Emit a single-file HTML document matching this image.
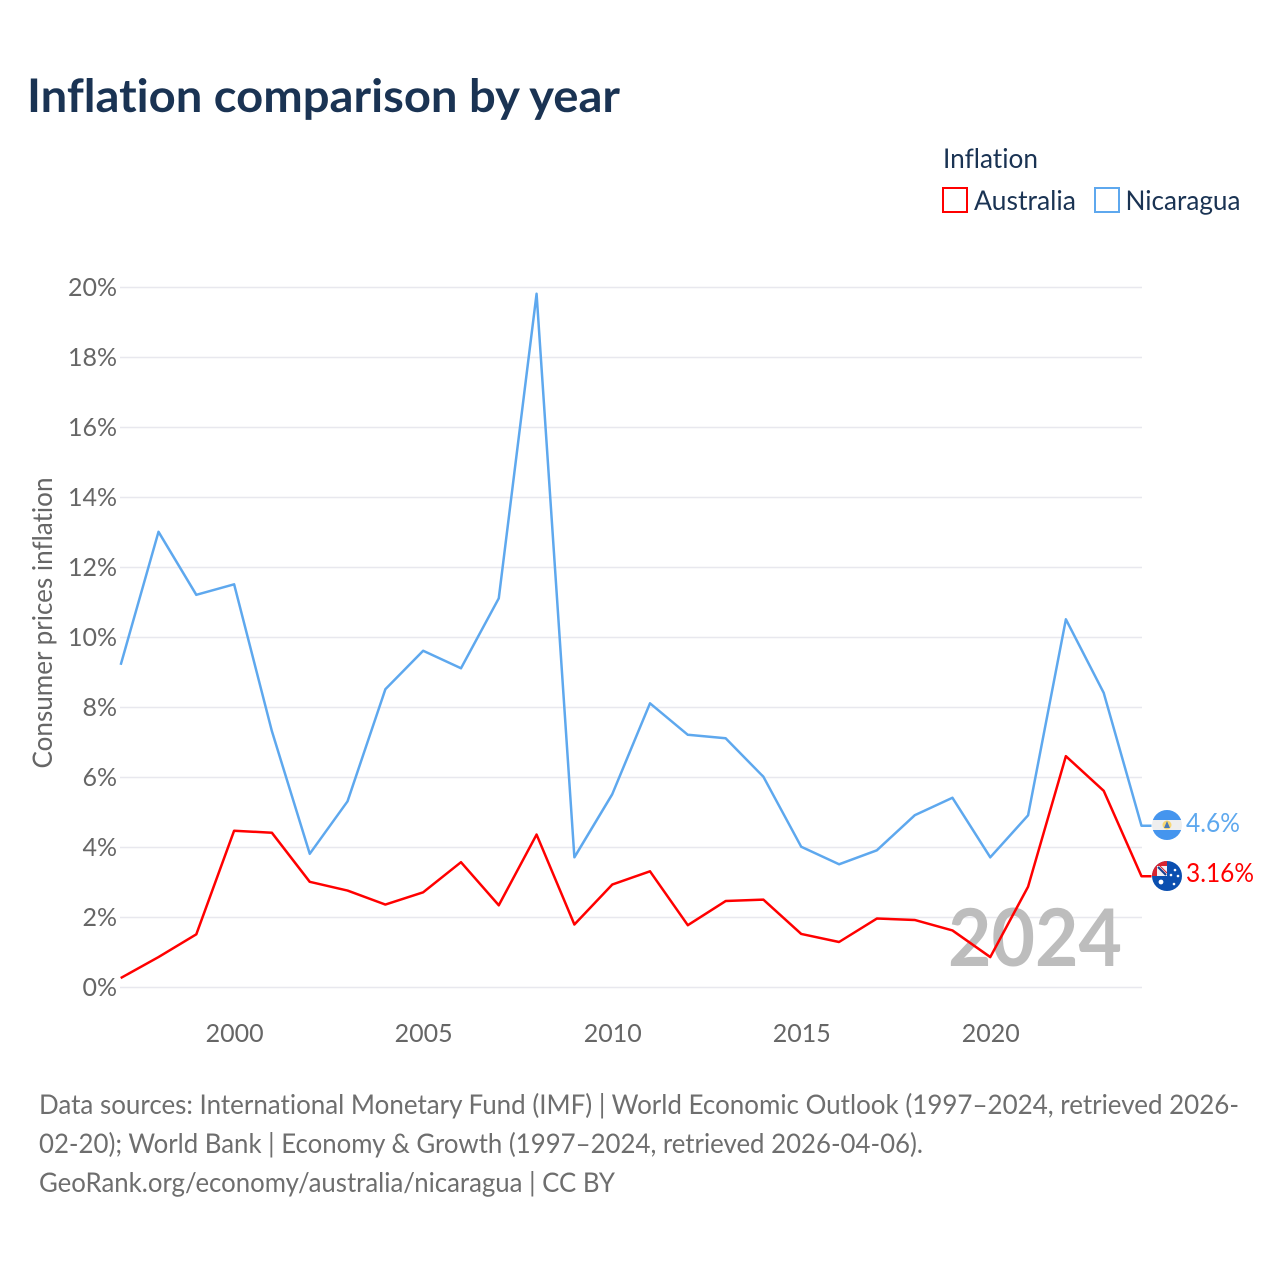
<!DOCTYPE html>
<html lang="en">
<head>
<meta charset="utf-8">
<title>Inflation comparison by year</title>
<style>
html,body{margin:0;padding:0;background:#fff;}
svg{display:block;}
text{font-family:"Lato","Carlito","Liberation Sans",sans-serif;font-variant-ligatures:none;font-feature-settings:"liga" 0,"clig" 0;}
</style>
</head>
<body>
<svg id="chart" xmlns="http://www.w3.org/2000/svg" width="1280" height="1280" viewBox="0 0 1280 1280">
  <rect width="1280" height="1280" fill="#ffffff"/>
  <text x="27" y="112" font-size="46" font-weight="700" fill="#1a3353" textLength="593" lengthAdjust="spacingAndGlyphs">Inflation comparison by year</text>

  <g>
    <text x="943" y="168" font-size="27" fill="#1a3353" textLength="95" lengthAdjust="spacingAndGlyphs">Inflation</text>
    <rect x="943" y="188" width="24" height="24" fill="none" stroke="#ff0000" stroke-width="2"/>
    <text x="974" y="210" font-size="27" fill="#1a3353" textLength="102" lengthAdjust="spacingAndGlyphs">Australia</text>
    <rect x="1095" y="188" width="24" height="24" fill="none" stroke="#5ea8ee" stroke-width="2"/>
    <text x="1125.5" y="210" font-size="27" fill="#1a3353" textLength="115" lengthAdjust="spacingAndGlyphs">Nicaragua</text>
  </g>

  <g id="grid"></g>
  <g id="yticks"></g>
  <g id="xticks"></g>
  <text transform="translate(52,623) rotate(-90)" text-anchor="middle" font-size="27" fill="#666666" textLength="291" lengthAdjust="spacingAndGlyphs">Consumer prices inflation</text>

  <text x="948" y="966" font-size="80" font-weight="700" fill="#bdbdbd" textLength="174" lengthAdjust="spacingAndGlyphs">2024</text>

  <g id="series"></g>

  <defs>
    <clipPath id="clip-ni"><circle cx="1167" cy="825" r="15"/></clipPath>
    <clipPath id="clip-au"><circle cx="1167" cy="876" r="15"/></clipPath>
  </defs>
  <g clip-path="url(#clip-ni)">
    <rect x="1152" y="810" width="30" height="30" fill="#eeeeee"/>
    <rect x="1152" y="810" width="30" height="10" fill="#4595ee"/>
    <rect x="1152" y="830" width="30" height="10" fill="#4595ee"/>
    <circle cx="1167" cy="825" r="4.5" fill="#f7d774"/>
    <polygon points="1167,821 1170,828 1164,828" fill="#4a78b5"/>
  </g>
  <g clip-path="url(#clip-au)">
    <rect x="1152" y="861" width="30" height="30" fill="#0b4fb0"/>
    <rect x="1152" y="861" width="15" height="15" fill="#d8232f"/>
    <rect x="1157" y="866" width="10" height="10" fill="#f0f0f4"/>
    <path d="M1158 867 L1166 875" stroke="#1b3f8f" stroke-width="2"/>
    <path d="M1160 866 L1167 873" stroke="#d8232f" stroke-width="1"/>
    <circle cx="1161" cy="882" r="2.4" fill="#fff"/>
    <circle cx="1175" cy="870" r="1.3" fill="#fff"/>
    <circle cx="1171" cy="875" r="1.3" fill="#fff"/>
    <circle cx="1178" cy="876" r="1.3" fill="#fff"/>
    <circle cx="1174" cy="884" r="1.3" fill="#fff"/>
  </g>
  <text x="1186" y="832" font-size="26" fill="#5ea8ee" textLength="54" lengthAdjust="spacingAndGlyphs">4.6%</text>
  <text x="1186" y="882" font-size="26" fill="#ff0000" textLength="68" lengthAdjust="spacingAndGlyphs">3.16%</text>

  <g font-size="27" fill="#6e6e6e">
    <text x="39" y="1114" textLength="1200" lengthAdjust="spacingAndGlyphs">Data sources: International Monetary Fund (IMF) | World Economic Outlook (1997–2024, retrieved 2026-</text>
    <text x="39" y="1153" textLength="884" lengthAdjust="spacingAndGlyphs">02-20); World Bank | Economy &amp; Growth (1997–2024, retrieved 2026-04-06).</text>
    <text x="39" y="1192" textLength="576" lengthAdjust="spacingAndGlyphs">GeoRank.org/economy/australia/nicaragua | CC BY</text>
  </g>
</svg>
<script>
const years = [1997,1998,1999,2000,2001,2002,2003,2004,2005,2006,2007,2008,2009,2010,2011,2012,2013,2014,2015,2016,2017,2018,2019,2020,2021,2022,2023,2024];
const nicaragua = [9.2,13.0,11.2,11.5,7.3,3.8,5.3,8.5,9.6,9.1,11.1,19.8,3.7,5.5,8.1,7.2,7.1,6.0,4.0,3.5,3.9,4.9,5.4,3.7,4.9,10.5,8.4,4.6];
const australia = [0.25,0.85,1.5,4.46,4.4,3.0,2.75,2.35,2.7,3.56,2.33,4.35,1.78,2.92,3.3,1.76,2.45,2.49,1.51,1.28,1.95,1.91,1.61,0.85,2.86,6.59,5.6,3.16];
const yTickValues = [0,2,4,6,8,10,12,14,16,18,20];
const xTickValues = [2000,2005,2010,2015,2020];

const NS = 'http://www.w3.org/2000/svg';
const xScale = v => 120.7 + (v - 1997) * (1141.5 - 120.7) / (2024 - 1997);
const yScale = v => 986.8 - v * 35;

const grid = document.getElementById('grid');
const yticks = document.getElementById('yticks');
const xticks = document.getElementById('xticks');
const seriesGroup = document.getElementById('series');

yTickValues.forEach(function (t) {
  const line = document.createElementNS(NS, 'line');
  
  
  line.setAttribute('x1', 120);
  line.setAttribute('x2', 1142);
  line.setAttribute('y1', 987.5 - t * 35);
  line.setAttribute('y2', 987.5 - t * 35);
  line.setAttribute('stroke', '#e8e8ee');
  line.setAttribute('stroke-width', 1.5);
  grid.appendChild(line);

  const label = document.createElementNS(NS, 'text');
  
  
  label.setAttribute('x', 117);
  label.setAttribute('y', 996 - t * 35);
  label.setAttribute('text-anchor', 'end');
  label.setAttribute('font-size', 25);
  label.setAttribute('fill', '#666666');
  label.textContent = t + '%';
  yticks.appendChild(label);
});

xTickValues.forEach(function (t) {
  const label = document.createElementNS(NS, 'text');
  
  
  label.setAttribute('x', xScale(t) + 0.5);
  label.setAttribute('y', 1042);
  label.setAttribute('text-anchor', 'middle');
  label.setAttribute('font-size', 25);
  label.setAttribute('fill', '#666666');
  label.textContent = t;
  xticks.appendChild(label);
});

function buildPoints(values) {
  const pts = values.map(function (v, i) {
    return xScale(years[i]).toFixed(2) + ',' + yScale(v).toFixed(2);
  });
  pts.push((xScale(years[years.length - 1]) + 10).toFixed(2) + ',' + yScale(values[values.length - 1]).toFixed(2));
  return pts.join(' ');
}

const lineNicaragua = document.createElementNS(NS, 'polyline');


lineNicaragua.setAttribute('points', buildPoints(nicaragua));
lineNicaragua.setAttribute('fill', 'none');
lineNicaragua.setAttribute('stroke', '#5ea8ee');
lineNicaragua.setAttribute('stroke-width', 2.5);
lineNicaragua.setAttribute('stroke-linejoin', 'round');
seriesGroup.appendChild(lineNicaragua);

const lineAustralia = document.createElementNS(NS, 'polyline');


lineAustralia.setAttribute('points', buildPoints(australia));
lineAustralia.setAttribute('fill', 'none');
lineAustralia.setAttribute('stroke', '#ff0000');
lineAustralia.setAttribute('stroke-width', 2.5);
lineAustralia.setAttribute('stroke-linejoin', 'round');
seriesGroup.appendChild(lineAustralia);

// Keep the flags above the series lines.
const chart = document.getElementById('chart');
chart.insertBefore(seriesGroup, chart.querySelector('defs'));
</script>
</body>
</html>
